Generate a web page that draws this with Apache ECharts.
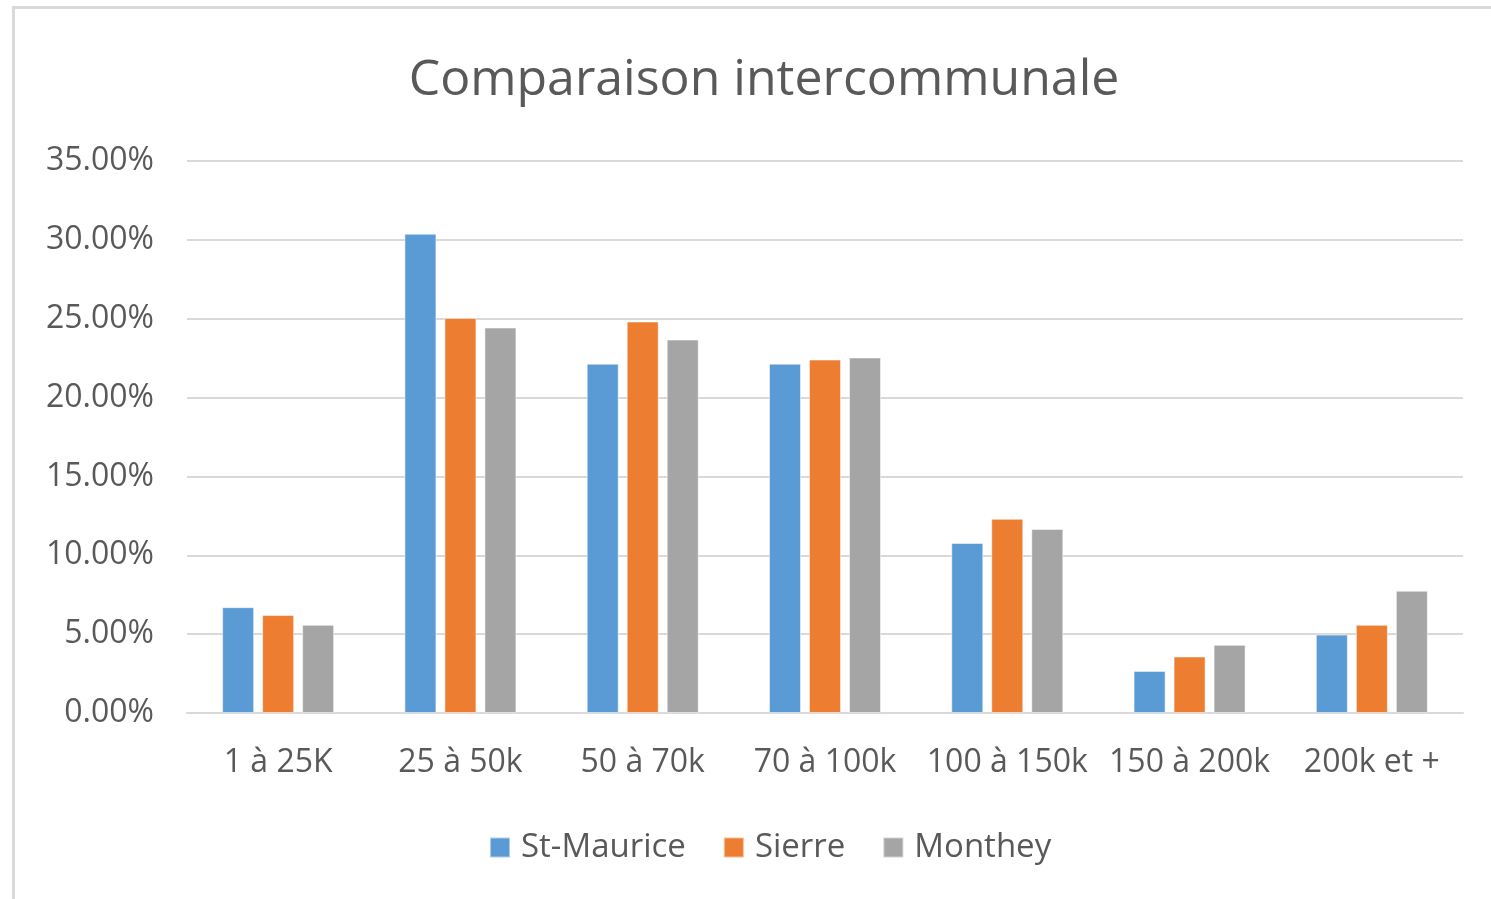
<!DOCTYPE html>
<html>
<head>
<meta charset="utf-8">
<title>Comparaison intercommunale</title>
<script src="https://cdn.jsdelivr.net/npm/echarts@6/dist/echarts.min.js"></script>
<style>
    html, body { margin: 0; padding: 0; background: #fff; }
    #frame {
        position: absolute; left: 12px; top: 6px;
        width: 1500px; height: 900px;
        border: 3px solid #d9d9d9; box-sizing: border-box;
    }
    #chart { position: absolute; left: 0; top: 0; width: 1491px; height: 899px; }
</style>
</head>
<body>
<div id="frame"></div>
<div id="chart"></div>
<script>
// Data
// ------------------------------

var categories = ['1 à 25K', '25 à 50k', '50 à 70k', '70 à 100k', '100 à 150k', '150 à 200k', '200k et +'];
var stMaurice = [6.71, 30.39, 22.15, 22.15, 10.78, 2.67, 4.97];
var sierre    = [6.21, 25.05, 24.82, 22.41, 12.31, 3.58, 5.59];
var monthey   = [5.59, 24.44, 23.68, 22.54, 11.67, 4.32, 7.75];
var seriesNames = ['St-Maurice', 'Sierre', 'Monthey'];


// Chart
// ------------------------------

var chart_element = document.getElementById('chart');
var chart = echarts.init(chart_element);

var font = '"Open Sans", "Noto Sans", sans-serif';

var makeBar = function(name, data) {
    return {
        name: name,
        type: 'bar',
        data: data,
        barWidth: 32,
        barGap: '25%',
        itemStyle: {
            borderColor: 'rgba(255,255,255,0.5)',
            borderWidth: 1
        }
    };
};

chart.setOption({
    animation: false,
    color: ['#5B9BD5', '#ED7D31', '#A5A5A5'],
    textStyle: { fontFamily: font },

    title: {
        text: 'Comparaison intercommunale',
        left: 759,
        top: 51,
        textAlign: 'center',
        textStyle: {
            fontFamily: font,
            fontSize: 50,
            fontWeight: 'normal',
            color: '#595959'
        }
    },

    legend: {
        data: seriesNames,
        left: 484,
        top: 826,
        itemWidth: 20,
        itemHeight: 20,
        itemGap: 37,
        icon: 'rect',
        textStyle: {
            fontFamily: font,
            fontSize: 33,
            color: '#595959',
            padding: [0, 0, 0, 6]
        }
    },

    grid: {
        left: 187,
        right: 28,
        top: 161,
        bottom: 186,
        containLabel: false
    },

    xAxis: {
        type: 'category',
        data: categories,
        axisTick: { show: false },
        axisLine: { lineStyle: { color: '#d9d9d9', width: 2 } },
        axisLabel: {
            fontFamily: font,
            fontSize: 32,
            color: '#595959',
            margin: 34,
            interval: 0
        }
    },

    yAxis: {
        type: 'value',
        min: 0,
        max: 35,
        interval: 5,
        axisLine: { show: false },
        axisTick: { show: false },
        axisLabel: {
            fontFamily: font,
            fontSize: 32,
            color: '#595959',
            margin: 33,
            formatter: function(v) { return v.toFixed(2) + '%'; }
        },
        splitLine: { lineStyle: { color: '#d9d9d9', width: 2 } }
    },

    series: [
        makeBar(seriesNames[0], stMaurice),
        makeBar(seriesNames[1], sierre),
        makeBar(seriesNames[2], monthey)
    ]
});
</script>
</body>
</html>
